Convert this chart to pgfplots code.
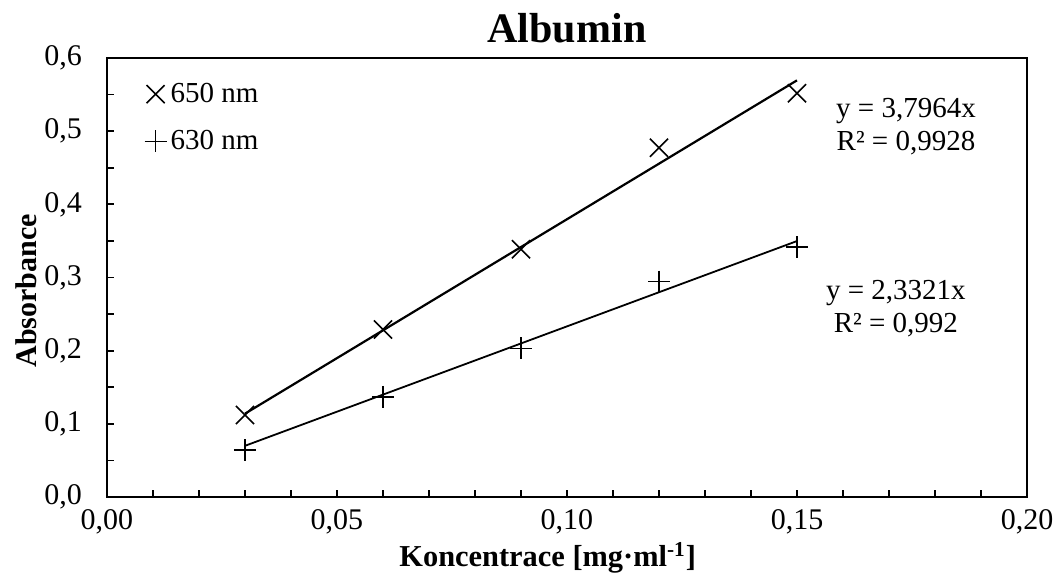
\documentclass[border=0pt]{standalone}
\usepackage{fontspec}
\setmainfont{Liberation Serif}
\usepackage{pgfplots}
\pgfplotsset{compat=1.18}
\begin{document}
\begin{tikzpicture}
\begin{axis}[
  name=ax,
  at={(0pt,0pt)}, anchor=south west,
  scale only axis,
  width=460pt, height=219.5pt,
  xmin=0, xmax=0.2, ymin=0, ymax=0.6,
  axis line style={line width=1.1pt},
  xtick={0,0.05,0.1,0.15,0.2},
  ytick={0,0.1,0.2,0.3,0.4,0.5,0.6},
  minor x tick num=4,
  minor y tick num=1,
  tick align=inside,
  tick pos=left,
  major tick length=3.5pt,
  minor tick length=3.5pt,
  tick style={line width=0.9pt, black},
  /pgf/number format/assume math mode=true,
  xticklabel style={/pgf/number format/.cd, fixed, fixed zerofill, precision=2, use comma, /tikz/.cd, yshift=-2.5pt},
  yticklabel style={/pgf/number format/.cd, fixed, fixed zerofill, precision=1, use comma, /tikz/.cd, xshift=-9pt},
  ticklabel style={font=\fontsize{15}{17}\selectfont},
  xlabel={\textbf{Koncentrace [mg·ml\textsuperscript{-1}]}},
  xlabel style={font=\fontsize{15.2}{17}\selectfont, at={(axis description cs:0.479,0)}, anchor=center, yshift=-30.5pt},
  ylabel={\textbf{Absorbance}},
  ylabel style={font=\fontsize{15}{17}\selectfont, at={(axis description cs:-0.0880,0.47)}, anchor=center},
  legend style={draw=none, fill=none, font=\fontsize{14.5}{16}\selectfont,
    at={(axis description cs:0.0404,0.953)}, anchor=north west,
    row sep=8.5pt, inner sep=0pt},
  legend cell align=left,
  legend image code/.code={\draw[#1] plot coordinates {(0.16cm,0cm)};},
  every axis plot/.append style={black},
]
\addplot[only marks, mark=x, mark size=6.4pt, mark options={line width=0.8pt}] coordinates {
  (0.03,0.112) (0.06,0.229) (0.09,0.3385) (0.12,0.4774) (0.15,0.5517)
};
\addlegendentry{650 nm}
\addplot[only marks, mark=+, mark size=5.5pt, mark options={line width=0.8pt}] coordinates {
  (0.03,0.0642) (0.06,0.137) (0.09,0.203) (0.12,0.2943) (0.15,0.3413)
};
\addlegendentry{630 nm}
\addplot[no marks, line width=1.1pt, forget plot] coordinates {(0.03,0.11389) (0.15,0.56946)};
\addplot[no marks, line width=0.9pt, forget plot] coordinates {(0.03,0.06996) (0.15,0.34982)};
\node[align=center, font=\fontsize{14.5}{16.5}\selectfont] at (axis cs:0.1737,0.506) {y = 3,7964x\\R² = 0,9928};
\node[align=center, font=\fontsize{14.5}{16.5}\selectfont] at (axis cs:0.1715,0.257) {y = 2,3321x\\R² = 0,992};
\end{axis}
\node[font=\fontsize{21}{24}\selectfont\bfseries, anchor=base, yshift=7.5pt] at (ax.north) {Albumin};
\pgfresetboundingbox
\path[use as bounding box] (-53.5pt,-38pt) rectangle (474pt,248.5pt);
\end{tikzpicture}
\end{document}
